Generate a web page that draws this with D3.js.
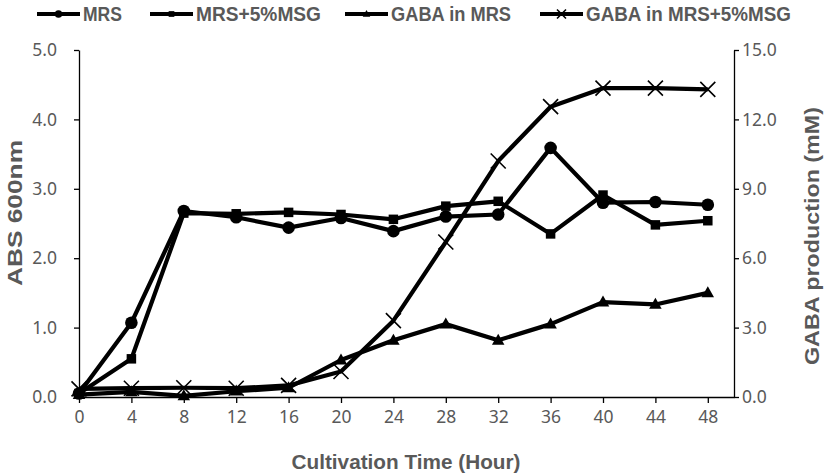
<!DOCTYPE html>
<html>
<head>
<meta charset="utf-8">
<script src="https://cdn.jsdelivr.net/npm/d3@7"></script>
<style>
  html, body { margin: 0; padding: 0; background: #fff; }
  svg { display: block; }
</style>
</head>
<body>
<svg id="chart" width="827" height="475"></svg>
<script>
// ---- data ----
const hours = [0, 4, 8, 12, 16, 20, 24, 28, 32, 36, 40, 44, 48];
const xTickLabels = ["0","4","8","12","16","20","24","28","32","36","40","44","48"];
const absMRS    = [0.05, 1.07, 2.68, 2.59, 2.44, 2.58, 2.39, 2.60, 2.63, 3.59, 2.80, 2.81, 2.77];
const absMSG    = [0.05, 0.55, 2.65, 2.64, 2.66, 2.63, 2.56, 2.75, 2.82, 2.35, 2.91, 2.48, 2.54];
const gabaMRS   = [0.10, 0.22, 0.05, 0.25, 0.40, 1.60, 2.45, 3.15, 2.45, 3.15, 4.10, 4.00, 4.50];
const gabaMSG   = [0.35, 0.38, 0.40, 0.38, 0.50, 1.10, 3.30, 6.70, 10.20, 12.55, 13.35, 13.35, 13.30];
const leftTicks  = [0, 1, 2, 3, 4, 5];
const rightTicks = [0, 3, 6, 9, 12, 15];
const seriesNames = ["MRS", "MRS+5%MSG", "GABA in MRS", "GABA in MRS+5%MSG"];

// ---- layout ----
const plot = { left: 79, right: 734, top: 50, bottom: 397 };
const textGrey = "#595959";
const tickFont = "'Noto Sans', 'Open Sans', sans-serif";
const titleFont = "'Liberation Sans', Arial, sans-serif";

const svg = d3.select("#chart");

const x = d3.scaleLinear().domain([0, 50]).range([plot.left, plot.right]);
const yL = d3.scaleLinear().domain([0, 5]).range([plot.bottom, plot.top]);
const yR = d3.scaleLinear().domain([0, 15]).range([plot.bottom, plot.top]);

// axes
const xAxis = d3.axisBottom(x).tickValues(hours).tickFormat((d, i) => xTickLabels[i]).tickSize(6).tickSizeOuter(0).tickPadding(8);
const yLAxis = d3.axisLeft(yL).tickValues(leftTicks).tickFormat(d3.format(".1f")).tickSize(5).tickSizeOuter(0).tickPadding(17);
const yRAxis = d3.axisRight(yR).tickValues(rightTicks).tickFormat(d3.format(".1f")).tickSize(5).tickSizeOuter(0).tickPadding(3);

function styleAxis(g) {
  g.selectAll(".domain").attr("stroke", "#000").attr("stroke-width", 1.3);
  g.selectAll(".tick line").attr("stroke", "#000").attr("stroke-width", 1.3);
  g.selectAll(".tick text").attr("fill", textGrey).style("font-family", tickFont).style("font-size", "17.5px");
}

svg.append("g").attr("transform", `translate(0,${plot.bottom})`).call(xAxis).call(styleAxis);
svg.append("g").attr("transform", `translate(${plot.left},0)`).call(yLAxis).call(styleAxis);
svg.append("g").attr("transform", `translate(${plot.right},0)`).call(yRAxis).call(styleAxis);

// axis titles
function title(sel, len) {
  return sel.attr("text-anchor", "middle")
    .attr("fill", textGrey).style("font-family", titleFont).style("font-weight", "bold").style("font-size", "20.5px")
    .attr("textLength", len).attr("lengthAdjust", "spacingAndGlyphs");
}

title(svg.append("text").attr("x", 406).attr("y", 469), 229).text("Cultivation Time (Hour)");
title(svg.append("text").attr("transform", `translate(22,213) rotate(-90)`), 146).text("ABS 600nm");
title(svg.append("text").attr("transform", `translate(819,236) rotate(-90)`), 258).text("GABA production (mM)");

// ---- series ----
const series = [
  { name: seriesNames[0], values: absMRS,  y: yL, marker: "circle" },
  { name: seriesNames[1], values: absMSG,  y: yL, marker: "square" },
  { name: seriesNames[2], values: gabaMRS, y: yR, marker: "triangle" },
  { name: seriesNames[3], values: gabaMSG, y: yR, marker: "cross" }
];

function drawMarker(g, type, cx, cy, scale) {
  const s = scale || 1;
  if (type === "circle") {
    g.append("circle").attr("cx", cx).attr("cy", cy).attr("r", 6.3 * s).attr("fill", "#000");
  } else if (type === "square") {
    const a = 9.5 * s;
    g.append("rect").attr("x", cx - a / 2).attr("y", cy - a / 2).attr("width", a).attr("height", a).attr("fill", "#000");
  } else if (type === "triangle") {
    const w = 12.5 * s, h = 11 * s;
    g.append("path").attr("d", `M${cx},${cy - h * 0.6}L${cx + w / 2},${cy + h * 0.4}L${cx - w / 2},${cy + h * 0.4}Z`).attr("fill", "#000");
  } else if (type === "cross") {
    const a = 7.5 * s;
    g.append("path").attr("d", `M${cx - a},${cy - a}L${cx + a},${cy + a}M${cx - a},${cy + a}L${cx + a},${cy - a}`)
      .attr("stroke", "#000").attr("stroke-width", 1.6).attr("fill", "none");
  }
}

const plotG = svg.append("g");
series.forEach(s => {
  const pts = hours.map((h, i) => [x(h), s.y(s.values[i])]);
  plotG.append("path")
    .attr("d", d3.line()(pts))
    .attr("fill", "none").attr("stroke", "#000").attr("stroke-width", 4.2)
    .attr("stroke-linejoin", "round");
  const mg = plotG.append("g");
  pts.forEach(p => drawMarker(mg, s.marker, p[0], p[1], 1));
});

// ---- legend ----
const legendStarts = [37, 150, 345, 540];
const legendTextLen = [39, 125, 120, 205];
const legendY = 14;
series.forEach((s, i) => {
  const lg = svg.append("g");
  const x0 = legendStarts[i];
  lg.append("line").attr("x1", x0).attr("x2", x0 + 43).attr("y1", legendY).attr("y2", legendY)
    .attr("stroke", "#000").attr("stroke-width", 4);
  drawMarker(lg, s.marker, x0 + 21.5, legendY, 0.6);
  lg.append("text").attr("x", x0 + 46).attr("y", legendY).attr("dy", "0.36em")
    .attr("fill", textGrey).style("font-family", titleFont).style("font-weight", "bold").style("font-size", "19.5px")
    .attr("textLength", legendTextLen[i]).attr("lengthAdjust", "spacingAndGlyphs")
    .text(s.name);
});
</script>
</body>
</html>
